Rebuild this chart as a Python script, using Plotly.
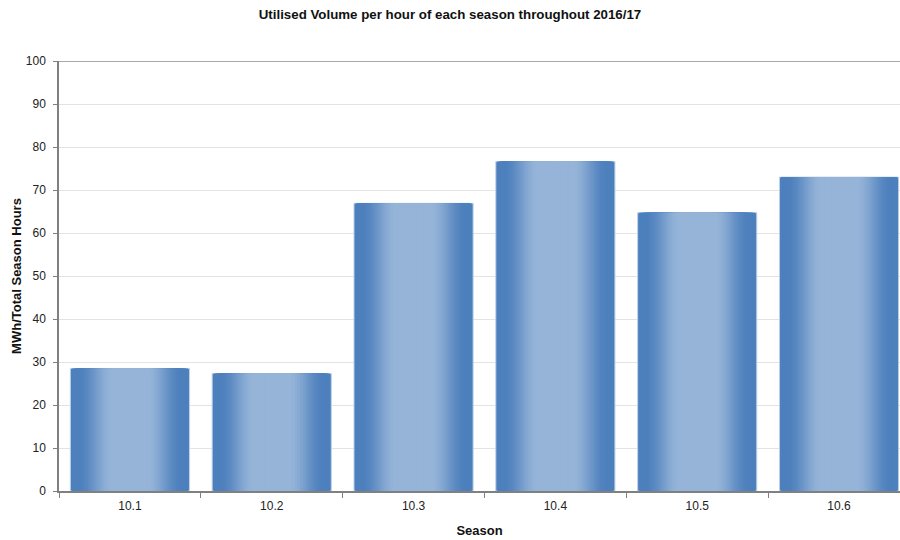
import plotly.graph_objects as go

seasons = ["10.1", "10.2", "10.3", "10.4", "10.5", "10.6"]
values = [28.5, 27.3, 66.9, 76.6, 64.7, 73.0]
y_ticks = [0, 10, 20, 30, 40, 50, 60, 70, 80, 90, 100]

title_text = "Utilised Volume per hour of each season throughout 2016/17"
x_title = "Season"
y_title = "MWh/Total Season Hours"

FONT = "Liberation Sans, Arial, sans-serif"
dark = (77, 128, 189)
light = (150, 180, 216)
BAR_W = 0.84
N = 40


def smooth(t, a=0.12, b=0.72):
    if t <= a:
        return 0.0
    if t >= b:
        return 1.0
    u = (t - a) / (b - a)
    return u * u * (3 - 2 * u)


fig = go.Figure()
for k in range(N):
    t = k / (N - 1)
    f = smooth(t)
    c = tuple(round(dark[i] + (light[i] - dark[i]) * f) for i in range(3))
    w = BAR_W * (1 - k / N)
    fig.add_trace(go.Bar(
        x=seasons, y=values, width=w,
        marker=dict(color="rgb(%d,%d,%d)" % c,
                    line=dict(width=1 if k == 0 else 0, color="#bfd1e8")),
        hoverinfo="skip" if k else "x+y",
        showlegend=False,
    ))

fig.add_shape(type="line", xref="paper", yref="y", x0=0, x1=1, y0=100, y1=100,
              line=dict(color="#8c8c8c", width=1.5), layer="above")

fig.update_layout(
    width=900, height=540,
    barmode="overlay",
    plot_bgcolor="white", paper_bgcolor="white",
    margin=dict(l=59, r=0, t=61, b=49),
    font=dict(family=FONT, size=12, color="#222222"),
    title=dict(text="<b>" + title_text + "</b>", x=0.5, xanchor="center",
               y=1 - 14 / 540, yanchor="middle", yref="container",
               font=dict(family=FONT, size=13.3, color="#111111")),
    xaxis=dict(
        type="category", range=[-0.5, 5.43],
        showline=True, linecolor="#808080", linewidth=1.5,
        ticks="outside", tickson="boundaries", ticklen=5, tickcolor="#808080",
        ticklabelstandoff=3,
        showgrid=False,
        title=dict(text="<b>" + x_title + "</b>", standoff=14,
                   font=dict(family=FONT, size=13, color="#111111")),
        tickfont=dict(family=FONT, size=12, color="#222222"),
    ),
    yaxis=dict(
        range=[0, 100], tickvals=y_ticks,
        showline=True, linecolor="#808080", linewidth=1.5,
        ticks="outside", ticklen=4, tickcolor="#808080",
        ticklabelstandoff=5,
        showgrid=True, gridcolor="#e3e3e3", gridwidth=1,
        zeroline=False,
        title=dict(text="<b>" + y_title + "</b>", standoff=1,
                   font=dict(family=FONT, size=13, color="#111111")),
        tickfont=dict(family=FONT, size=12, color="#222222"),
    ),
)

fig.write_html("out.html")
